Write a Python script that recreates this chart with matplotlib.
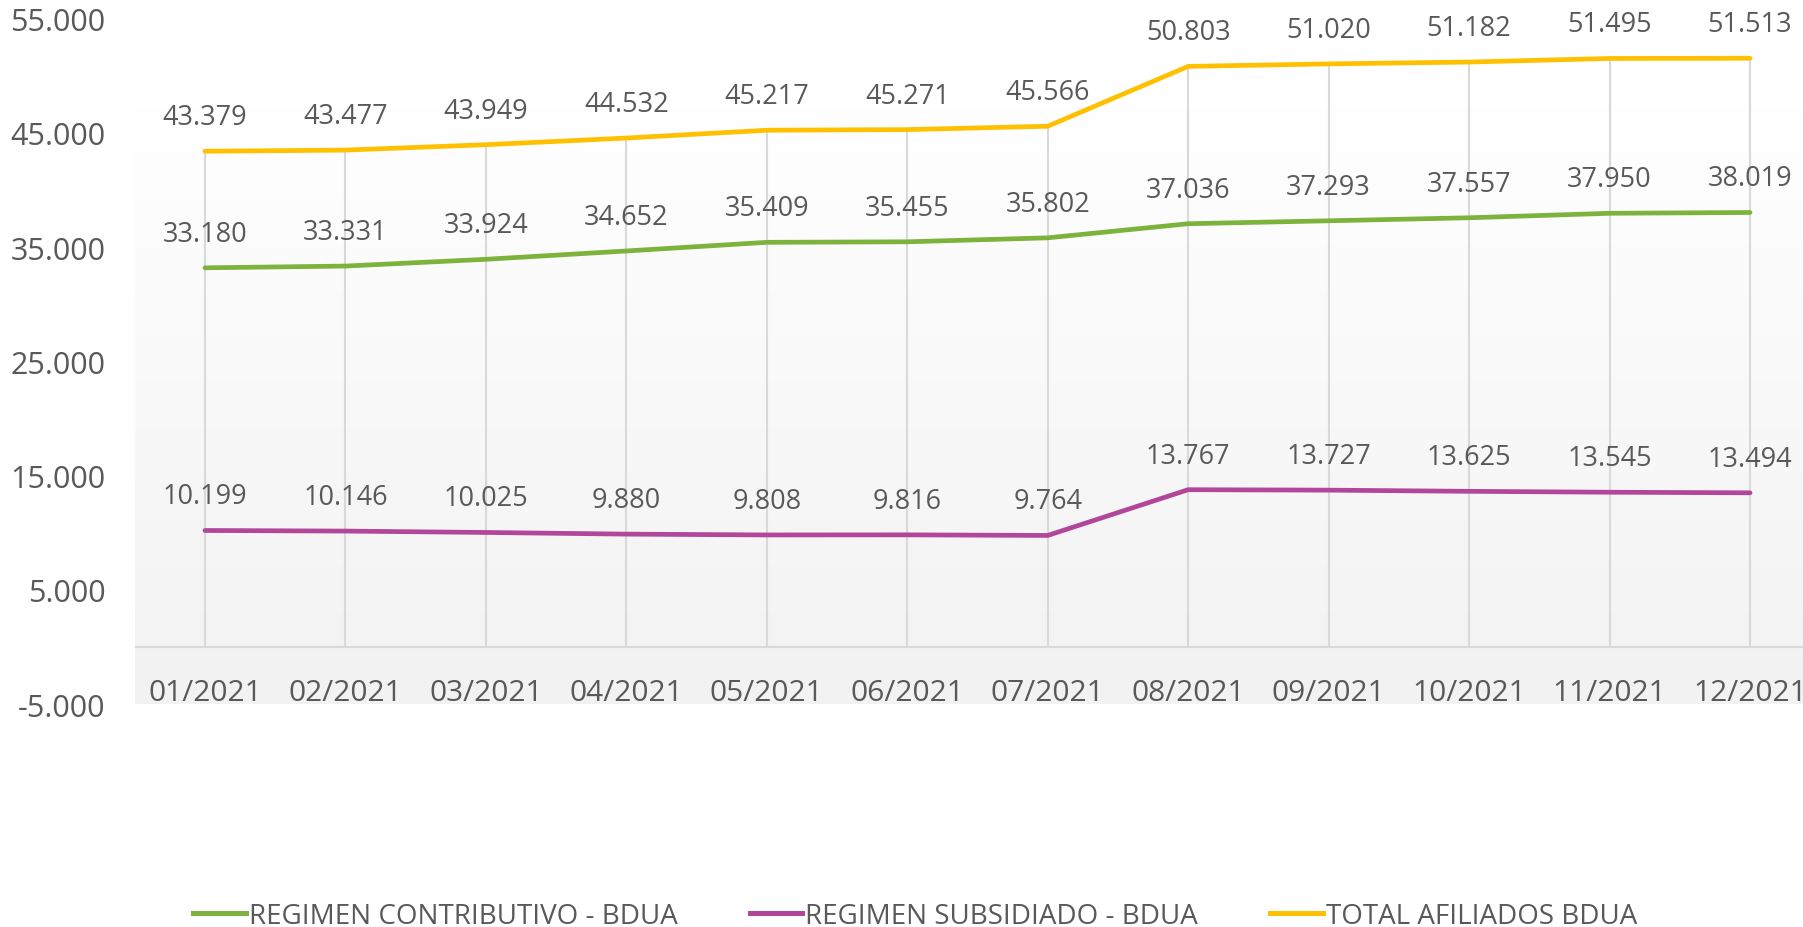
import numpy as np
import matplotlib
matplotlib.use("Agg")
import matplotlib.pyplot as plt
from matplotlib.colors import LinearSegmentedColormap
from matplotlib.lines import Line2D

plt.rcParams['font.family'] = ['Open Sans', 'DejaVu Sans']

months = ["01/2021", "02/2021", "03/2021", "04/2021", "05/2021", "06/2021",
          "07/2021", "08/2021", "09/2021", "10/2021", "11/2021", "12/2021"]
contributivo = [33180, 33331, 33924, 34652, 35409, 35455, 35802, 37036, 37293, 37557, 37950, 38019]
subsidiado = [10199, 10146, 10025, 9880, 9808, 9816, 9764, 13767, 13727, 13625, 13545, 13494]
total = [43379, 43477, 43949, 44532, 45217, 45271, 45566, 50803, 51020, 51182, 51495, 51513]
series_names = ["REGIMEN CONTRIBUTIVO - BDUA", "REGIMEN SUBSIDIADO - BDUA", "TOTAL AFILIADOS BDUA"]
yticks = [-5000, 5000, 15000, 25000, 35000, 45000, 55000]

colors = ["#7DB33C", "#B1479B", "#FFC000"]
txt = "#595959"

W, H = 1803, 928
fig = plt.figure(figsize=(W / 100, H / 100), dpi=100)
left_px, right_px = 134.75, 1820.25
top_px, bot_px = 19.4, 705.2
ax = fig.add_axes([left_px / W, (H - bot_px) / H, (right_px - left_px) / W, (bot_px - top_px) / H])
ax.set_xlim(-0.5, 11.5)
ax.set_ylim(-5000, 55000)
ax.patch.set_alpha(0)

# gradient background (plot area) from y~108px to bottom
grad_top_val = 55000 - (108 - top_px) / (bot_px - top_px) * 60000
cmap = LinearSegmentedColormap.from_list("g", ["#ffffff", "#f2f2f2"])
grad = np.linspace(0, 1, 256).reshape(-1, 1)
ax.imshow(grad, cmap=cmap, aspect='auto', extent=[-0.5, 11.5, -5000, grad_top_val],
          origin='upper', zorder=0, vmin=0, vmax=1)

x = np.arange(len(months))
# drop lines
tops = np.max(np.vstack([contributivo, subsidiado, total]), axis=0)
ax.vlines(x, 0, tops, color="#d9d9d9", lw=1.5, zorder=1)
ax.axhline(0, color="#d9d9d9", lw=1.5, zorder=1)

for vals, c in zip([contributivo, subsidiado, total], colors):
    ax.plot(x, vals, color=c, lw=3.4, solid_capstyle='round', zorder=3)
    for xi, v in zip(x, vals):
        ax.annotate(f"{v/1000:.3f}", (xi, v), xytext=(0, 24.5), textcoords='offset points',
                    ha='center', va='center', fontsize=19.5, color=txt, zorder=4)

for s in ax.spines.values():
    s.set_visible(False)
ax.set_yticks(yticks)
ax.set_yticklabels([f"{v/1000:.3f}" for v in yticks])
ax.tick_params(axis='y', length=0, pad=21, labelsize=22, labelcolor=txt)
ax.set_xticks(x)
ax.set_xticklabels([])
for xi, m in zip(x, months):
    ax.annotate(m, (xi, 0), xytext=(0, -32.5), textcoords='offset points',
                ha='center', va='center', fontsize=21.5, color=txt)
ax.tick_params(axis='x', length=0)

handles = [Line2D([0], [0], color=c, lw=3.6) for c in colors]
fig.legend(handles, series_names, loc='center', bbox_to_anchor=(0.5075, (H - 917) / H),
           ncol=3, frameon=False, fontsize=20, labelcolor=txt, handlelength=1.9,
           handletextpad=0.1, columnspacing=2.6)

fig.savefig("out.png", dpi=100)
